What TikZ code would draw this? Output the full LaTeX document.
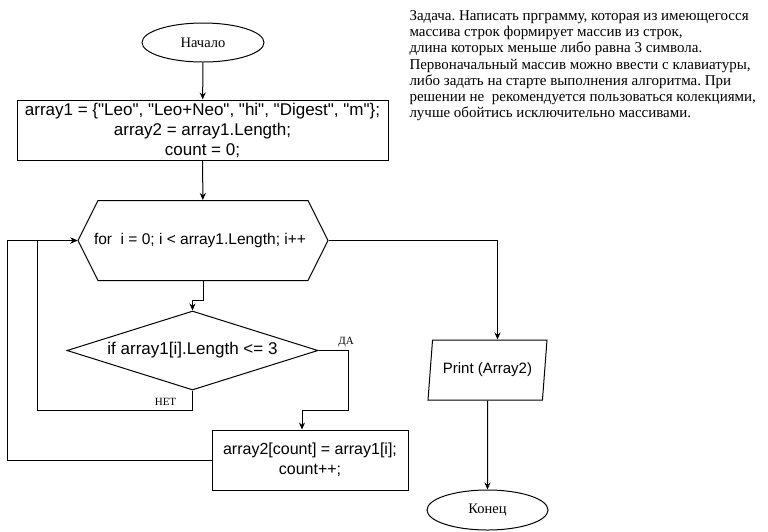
\documentclass[tikz,border=0pt]{standalone}
\usepackage{fontspec}
\setmainfont{Liberation Serif}
\setsansfont[Ligatures=TeXOff]{Liberation Sans}
\usetikzlibrary{shapes.geometric,shapes.symbols,arrows.meta}
\newcommand{\codeSize}[0]{\fontsize{16}{20}\selectfont}
\newcommand{\noteSize}[0]{\fontsize{15}{16.2}\selectfont\frenchspacing}

\begin{document}
\begin{tikzpicture}[x=1pt, y=-1pt, line width=1pt, >={Stealth[length=7pt,width=6pt]}]
  \tikzset{
    terminal/.style={draw, ellipse, inner sep=0pt, font=\fontsize{14.5}{16}\selectfont},
    process/.style={draw, rectangle, align=center, inner sep=0pt, font=\sffamily\codeSize},
    loopbox/.style={draw, signal, signal to=west and east, signal pointer angle=126.9,
      inner sep=0pt, font=\sffamily\fontsize{15.5}{20}\selectfont},
    decision/.style={draw, diamond, aspect=3.18, inner sep=0pt, font=\sffamily\fontsize{17}{20}\selectfont},
    iobox/.style={draw, trapezium, trapezium left angle=72, trapezium right angle=108,
      trapezium stretches body, inner sep=0pt, font=\sffamily\fontsize{15}{18}\selectfont},
    branch/.style={font=\fontsize{11}{12}\selectfont, inner sep=0pt}
  }
  \useasboundingbox (0,0) rectangle (768,531);
  \node[terminal, minimum width=122pt, minimum height=39pt] (start) at (203,42.5) {Начало};
  \node[process, minimum width=371pt, minimum height=60pt, font=\sffamily\fontsize{17}{20}\selectfont]
    (init) at (202.5,130)
    {array1 = \{"Leo", "Leo+Neo", "hi", "Digest", "m"\};\\
     array2 = array1.Length;\\
     count = 0;};
  \node[loopbox, minimum width=250pt, minimum height=80pt] (loop) at (203,240.5)
    {\makebox[160pt]{\hspace*{-6pt}for\ \ i = 0; i < array1.Length; i++}};
  \node[decision, minimum width=251pt, minimum height=79pt] (cond) at (192.5,350.5)
    {if array1[i].Length <= 3};
  \node[process, minimum width=196pt, minimum height=60pt] (act) at (310,460)
    {array2[count] = array1[i];\\ count++;};
  \node[iobox, minimum width=119pt, minimum height=60pt] (out) at (487.5,370)
    {Print (Array2)};
  \node[terminal, minimum width=121pt, minimum height=40pt] (end) at (487.5,510) {Конец};
  \node[anchor=north west, align=left, inner sep=0pt, font=\noteSize] (task) at (409,10)
    {Задача. Написать прграмму, которая из имеющегосся\\
     массива строк формирует массив из строк,\\
     длина которых меньше либо равна 3 символа.\\
     Первоначальный массив можно ввести с клавиатуры,\\
     либо задать на старте выполнения алгоритма. При\\
     решении не\ \ рекомендуется пользоваться колекциями,\\
     лучше обойтись исключительно массивами.};
  \coordinate (not-turn) at (37,410);
  \coordinate (yes-turn) at (348,410);
  \coordinate (back-turn) at (7,240.5);
  \node[branch] (yes) at (346,342) {ДА};
  \node[branch] (no) at (165.5,402) {НЕТ};
  \draw[->] (start) -- (init);
  \draw[->] (init) -- (loop);
  \draw[->] (loop.south) -- ++(0,19) -| (cond.north);
  \draw[->] (cond.east) -| (yes-turn) -| ([xshift=-8]act.north);
  \draw[->] (cond.south) |- (not-turn) |- (loop.west);
  \draw[->] (act.west) -| (back-turn) -- (loop.west);
  \draw[->] (loop.east) -| ([xshift=10]out.north);
  \draw[->] (out.south) -- (end.north);
\end{tikzpicture}
\end{document}
